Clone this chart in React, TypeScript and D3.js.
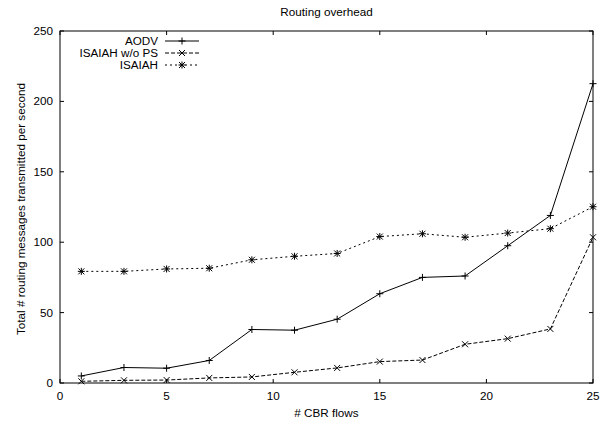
import { useEffect, useRef } from "react";
import * as d3 from "d3";

const flows = [1, 3, 5, 7, 9, 11, 13, 15, 17, 19, 21, 23, 25];
const aodv = [5, 11, 10.5, 16, 38, 37.5, 45.3, 63.4, 75, 76, 97.5, 119, 212.6];
const isaiahNoPs = [1.2, 1.9, 2.1, 3.6, 4.3, 7.6, 10.7, 15.2, 16.3, 27.5, 31.5, 38.4, 103.5];
const isaiah = [79.3, 79.3, 81, 81.5, 87.5, 90, 92, 104, 106, 103.5, 106.5, 109.6, 125.2];
const xTicks = [0, 5, 10, 15, 20, 25];
const yTicks = [0, 50, 100, 150, 200, 250];

type Marker = "plus" | "cross" | "star";

const seriesList: { name: string; values: number[]; dash: string | null; marker: Marker }[] = [
  { name: "AODV", values: aodv, dash: null, marker: "plus" },
  { name: "ISAIAH w/o PS", values: isaiahNoPs, dash: "4,2", marker: "cross" },
  { name: "ISAIAH", values: isaiah, dash: "2,3", marker: "star" },
];

const W = 604;
const H = 421;
const FONT = "Liberation Sans, Arial, sans-serif";
const FS = 11.7;

const drawMarker = (
  g: d3.Selection<SVGGElement, unknown, null, undefined>,
  cx: number,
  cy: number,
  kind: Marker
) => {
  const s = 3.5;
  const d = 3;
  const p = d3.path();
  if (kind === "plus" || kind === "star") {
    p.moveTo(cx - s, cy);
    p.lineTo(cx + s, cy);
    p.moveTo(cx, cy - s);
    p.lineTo(cx, cy + s);
  }
  if (kind === "cross" || kind === "star") {
    p.moveTo(cx - d, cy - d);
    p.lineTo(cx + d, cy + d);
    p.moveTo(cx - d, cy + d);
    p.lineTo(cx + d, cy - d);
  }
  g.append("path")
    .attr("d", p.toString())
    .attr("stroke", "#000")
    .attr("stroke-width", 1)
    .attr("fill", "none");
};

export default function App() {
  const ref = useRef<SVGSVGElement | null>(null);

  useEffect(() => {
    if (!ref.current) return;
    const svg = d3.select(ref.current);
    svg.selectAll("*").remove();

    const m = { l: 60, r: 11, t: 31, b: 38 };
    const x = d3.scaleLinear().domain([0, 25]).range([m.l, W - m.r]);
    const y = d3.scaleLinear().domain([0, 250]).range([H - m.b, m.t]);

    const root = svg.append("g");

    // ── Frame ──────────────────────────────────────────────────────────
    root
      .append("rect")
      .attr("x", m.l)
      .attr("y", m.t)
      .attr("width", W - m.r - m.l)
      .attr("height", H - m.b - m.t)
      .attr("fill", "none")
      .attr("stroke", "#000")
      .attr("stroke-width", 1);

    // ── Ticks (inward, mirrored) ──────────────────────────────────────
    const tl = 4;
    xTicks.forEach((t) => {
      const px = x(t);
      root.append("line").attr("x1", px).attr("x2", px)
        .attr("y1", H - m.b).attr("y2", H - m.b - tl).attr("stroke", "#000");
      root.append("line").attr("x1", px).attr("x2", px)
        .attr("y1", m.t).attr("y2", m.t + tl).attr("stroke", "#000");
      root.append("text")
        .attr("x", px)
        .attr("y", H - m.b + 17)
        .attr("text-anchor", "middle")
        .attr("font-family", FONT)
        .attr("font-size", FS)
        .text(String(t));
    });
    yTicks.forEach((t) => {
      const py = y(t);
      root.append("line").attr("x1", m.l).attr("x2", m.l + tl)
        .attr("y1", py).attr("y2", py).attr("stroke", "#000");
      root.append("line").attr("x1", W - m.r).attr("x2", W - m.r - tl)
        .attr("y1", py).attr("y2", py).attr("stroke", "#000");
      root.append("text")
        .attr("x", m.l - 7)
        .attr("y", py + 4)
        .attr("text-anchor", "end")
        .attr("font-family", FONT)
        .attr("font-size", FS)
        .text(String(t));
    });

    // ── Series ────────────────────────────────────────────────────────
    const line = d3
      .line<number>()
      .x((_, i) => x(flows[i]))
      .y((d) => y(d));

    seriesList.forEach((s) => {
      root
        .append("path")
        .attr("d", line(s.values))
        .attr("fill", "none")
        .attr("stroke", "#000")
        .attr("stroke-width", 1)
        .attr("stroke-dasharray", s.dash ?? null);
      const mg = root.append("g");
      s.values.forEach((v, i) => drawMarker(mg, x(flows[i]), y(v), s.marker));
    });

    // ── Legend ────────────────────────────────────────────────────────
    seriesList.forEach((s, i) => {
      const ly = 41 + i * 12;
      root.append("text")
        .attr("x", 158)
        .attr("y", ly + 4)
        .attr("text-anchor", "end")
        .attr("font-family", FONT)
        .attr("font-size", FS)
        .text(s.name);
      root.append("line")
        .attr("x1", 165).attr("x2", 199)
        .attr("y1", ly).attr("y2", ly)
        .attr("stroke", "#000")
        .attr("stroke-dasharray", s.dash ?? null);
      const mg = root.append("g");
      drawMarker(mg, 182, ly, s.marker);
    });

    // ── Titles ────────────────────────────────────────────────────────
    root.append("text")
      .attr("x", (m.l + W - m.r) / 2)
      .attr("y", 16)
      .attr("text-anchor", "middle")
      .attr("font-family", FONT)
      .attr("font-size", FS)
      .text("Routing overhead");
    root.append("text")
      .attr("x", (m.l + W - m.r) / 2)
      .attr("y", 417)
      .attr("text-anchor", "middle")
      .attr("font-family", FONT)
      .attr("font-size", FS)
      .text("# CBR flows");
    root.append("text")
      .attr("transform", `translate(24.5,209) rotate(-90)`)
      .attr("text-anchor", "middle")
      .attr("font-family", FONT)
      .attr("font-size", FS)
      .text("Total # routing messages transmitted per second");
  }, []);

  return (
    <svg
      ref={ref}
      width={W}
      height={H}
      style={{ position: "absolute", left: 0, top: 0, background: "#fff" }}
    />
  );
}
